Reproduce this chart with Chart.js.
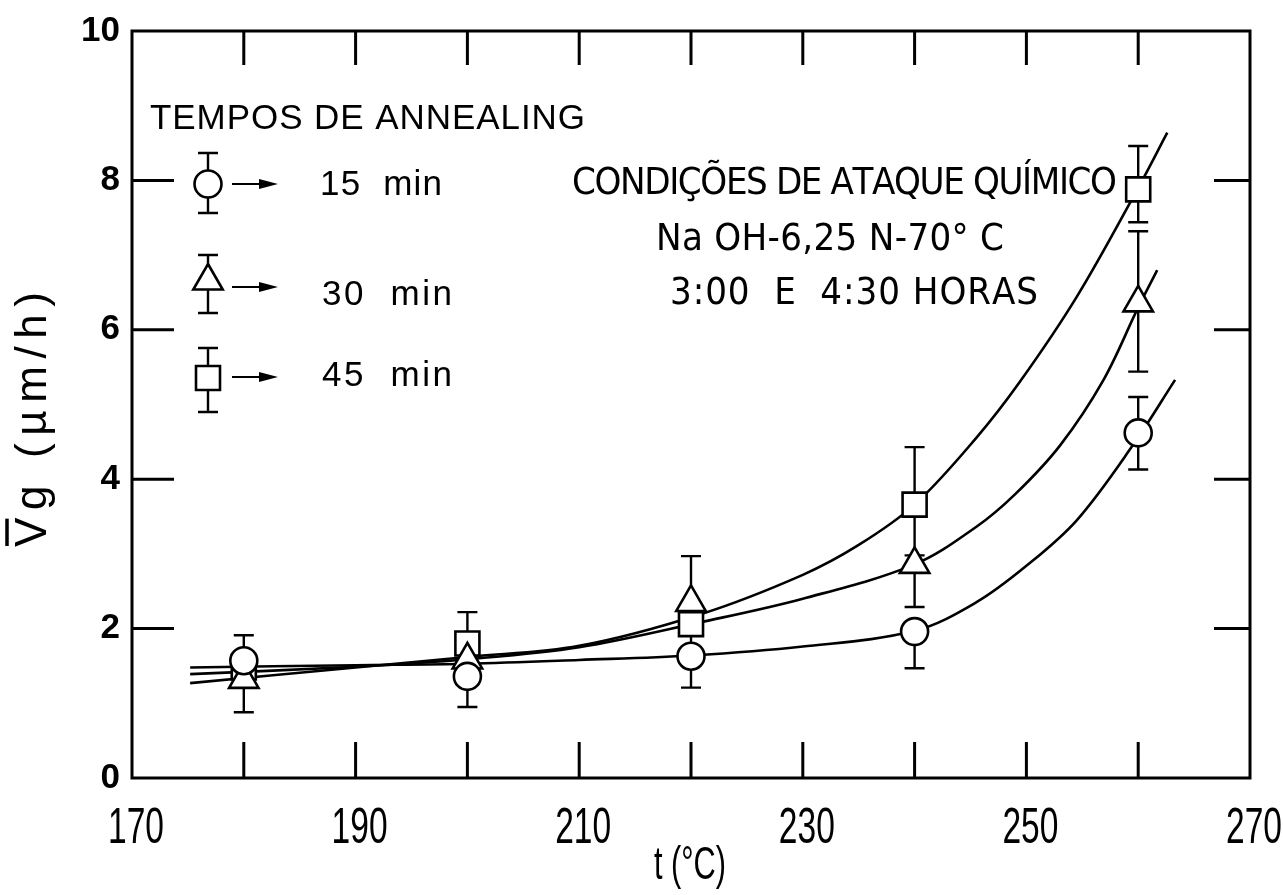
<!DOCTYPE html>
<html>
<head>
<meta charset="utf-8">
<script src="https://cdn.jsdelivr.net/npm/chart.js@4"></script>
<style>
html,body{margin:0;padding:0;background:#fff}
#wrap{width:1283px;height:895px;position:relative}
</style>
</head>
<body>
<div id="wrap"><canvas id="c" width="1283" height="895"></canvas></div>
<script>
// ---- tick labels ----
const xTickLabels = [170, 190, 210, 230, 250, 270];
const xTickMarks = [180, 190, 200, 210, 220, 230, 240, 250, 260];
const yTickLabels = [0, 2, 4, 6, 8, 10];
const yTickMarks = [2, 4, 6, 8];

// ---- measured points (temperature, Vg) ----
const temps = [180, 200, 220, 240, 260];
const v15 = [1.57, 1.36, 1.63, 1.96, 4.62];
const v30 = [1.32, 1.58, 2.35, 2.86, 6.36];
const v45 = [1.48, 1.80, 2.06, 3.66, 7.88];

// ---- error bar ends (null = not drawn) ----
const hi15 = [1.91, null, null, null, 5.10];
const lo15 = [null, 0.95, 1.21, 1.47, 4.13];
const hi30 = [null, null, 2.97, null, 7.32];
const lo30 = [0.88, null, null, 2.29, 5.44];
const hi45 = [null, 2.22, null, 4.43, 8.46];
const lo45 = [null, null, 1.56, 2.98, 7.44];

// ---- fitted curves ----
const fit15T = [175.2, 190, 200, 210, 220, 230, 240, 245.5, 250, 254.5, 259.5, 263.3];
const fit15V = [1.48, 1.51, 1.53, 1.58, 1.64, 1.76, 1.97, 2.35, 2.84, 3.45, 4.45, 5.33];
const fit30T = [175.2, 190, 200, 210, 221, 230, 240, 245.5, 249, 253, 256.9, 260, 261.7];
const fit30V = [1.39, 1.49, 1.59, 1.75, 2.09, 2.40, 2.86, 3.36, 3.80, 4.45, 5.33, 6.30, 6.80];
const fit45T = [175.2, 190, 200, 210, 221, 230, 235, 240, 245.5, 249.4, 254.5, 260, 262.6];
const fit45V = [1.27, 1.48, 1.62, 1.77, 2.20, 2.72, 3.12, 3.66, 4.55, 5.30, 6.44, 7.90, 8.64];

// ---- texts ----
const legendTitle = 'TEMPOS DE ANNEALING';
const seriesNames = ['15  min', '30  min', '45  min'];
const noteLines = ['CONDIÇÕES DE ATAQUE QUÍMICO', 'Na OH-6,25 N-70° C', '3:00  E  4:30 HORAS'];
const xTitle = 't (°C)';
const yTitle = 'Vg (µm/h)';

const pts = (xs, ys) => xs.map((x, i) => ({x: x, y: ys[i]}));

function curve(xs, ys) {
  return {data: pts(xs, ys), showLine: true, borderColor: '#000', borderWidth: 2.6,
    pointRadius: 0, tension: 0.35, fill: false, order: 2};
}
function marks(ys, style, r) {
  return {data: pts(temps, ys), showLine: false, pointStyle: style, pointRadius: r,
    pointBorderWidth: 2.6, pointBackgroundColor: '#fff', pointBorderColor: '#000',
    backgroundColor: '#fff', borderColor: '#000', order: 0};
}

function spacedText(ctx, text, x, y, w, font) {
  ctx.save();
  ctx.font = font;
  const chars = Array.from(text);
  const widths = chars.map(c => ctx.measureText(c).width);
  const nat = widths.reduce((a, b) => a + b, 0);
  const sp = chars.length > 1 ? (w - nat) / (chars.length - 1) : 0;
  let cx = x;
  ctx.textAlign = 'left';
  chars.forEach((c, i) => { ctx.fillText(c, cx, y); cx += widths[i] + sp; });
  ctx.restore();
  return widths[0];
}

function fittedText(ctx, text, cx, y, w, font) {
  ctx.save();
  ctx.font = font;
  const m = ctx.measureText(text).width;
  ctx.translate(cx, y);
  ctx.scale(w / m, 1);
  ctx.textAlign = 'center';
  ctx.fillText(text, 0, 0);
  ctx.restore();
}

function drawMarker(ctx, style, x, y) {
  ctx.save();
  ctx.fillStyle = '#fff'; ctx.strokeStyle = '#000'; ctx.lineWidth = 2.6;
  ctx.beginPath();
  if (style === 'circle') {
    ctx.arc(x, y, 13.5, 0, Math.PI * 2);
  } else if (style === 'triangle') {
    const r = 17;
    ctx.moveTo(x, y - r);
    ctx.lineTo(x + r * 0.866, y + r * 0.5);
    ctx.lineTo(x - r * 0.866, y + r * 0.5);
    ctx.closePath();
  } else {
    const s = 12;
    ctx.rect(x - s, y - s, 2 * s, 2 * s);
  }
  ctx.fill(); ctx.stroke();
  ctx.restore();
}

function vbar(ctx, x, y0, y1) {
  ctx.beginPath(); ctx.moveTo(x, y0); ctx.lineTo(x, y1);
  ctx.moveTo(x - 10, y1); ctx.lineTo(x + 10, y1); ctx.stroke();
}

const figurePlugin = {
  id: 'figure',
  beforeDatasetsDraw(chart) {
    const ctx = chart.ctx, xs = chart.scales.x, ys = chart.scales.y;
    ctx.save();
    ctx.strokeStyle = '#000'; ctx.lineWidth = 2.4;
    [[v15, hi15, lo15], [v30, hi30, lo30], [v45, hi45, lo45]].forEach(([v, hi, lo]) => {
      temps.forEach((t, i) => {
        const px = xs.getPixelForValue(t), py = ys.getPixelForValue(v[i]);
        if (hi[i] !== null) vbar(ctx, px, py, ys.getPixelForValue(hi[i]));
        if (lo[i] !== null) vbar(ctx, px, py, ys.getPixelForValue(lo[i]));
      });
    });
    ctx.restore();
  },
  afterDraw(chart) {
    const ctx = chart.ctx, a = chart.chartArea, xs = chart.scales.x, ys = chart.scales.y;
    ctx.save();
    ctx.strokeStyle = '#000'; ctx.fillStyle = '#000';
    // frame
    ctx.lineWidth = 3;
    ctx.strokeRect(a.left, a.top, a.right - a.left, a.bottom - a.top);
    // inner tick marks
    ctx.beginPath();
    xTickMarks.forEach(t => {
      const px = xs.getPixelForValue(t);
      ctx.moveTo(px, a.bottom); ctx.lineTo(px, a.bottom - 36);
      ctx.moveTo(px, a.top); ctx.lineTo(px, a.top + 34);
    });
    yTickMarks.forEach(v => {
      const py = ys.getPixelForValue(v);
      ctx.moveTo(a.left, py); ctx.lineTo(a.left + 42, py);
      ctx.moveTo(a.right, py); ctx.lineTo(a.right - 36, py);
    });
    ctx.stroke();

    // x tick labels (narrow lettering, placed by the x scale)
    ctx.textBaseline = 'alphabetic';
    xTickLabels.forEach(v => {
      fittedText(ctx, String(v), xs.getPixelForValue(v) + 4, a.bottom + 65, 56,
        '50px "Liberation Sans", Arial, sans-serif');
    });

    // axis titles
    fittedText(ctx, xTitle, 690, 879, 72, '46px "Liberation Sans", Arial, sans-serif');
    ctx.save();
    ctx.translate(46, 547);
    ctx.rotate(-Math.PI / 2);
    const wV = spacedText(ctx, yTitle, 0, 0, 255, '44px "Liberation Sans", Arial, sans-serif');
    ctx.lineWidth = 3.5;
    ctx.beginPath(); ctx.moveTo(1, -39); ctx.lineTo(wV - 1, -39); ctx.stroke();
    ctx.restore();

    // legend
    ctx.textBaseline = 'middle';
    const lf = '35px "Liberation Sans", Arial, sans-serif';
    spacedText(ctx, legendTitle, 150, 119, 435, lf);
    const lx = 208;
    const rows = [
      {style: 'circle', y: 184, top: 153, bot: 213, ay: 184, ty: 185, tx: 320, tw: 122, name: seriesNames[0]},
      {style: 'triangle', y: 281, top: 255, bot: 313, ay: 287, ty: 295, tx: 322, tw: 130, name: seriesNames[1]},
      {style: 'square', y: 378, top: 348, bot: 412, ay: 377, ty: 376, tx: 322, tw: 130, name: seriesNames[2]}
    ];
    ctx.lineWidth = 2.4;
    rows.forEach(r => {
      vbar(ctx, lx, r.y, r.top);
      vbar(ctx, lx, r.y, r.bot);
      drawMarker(ctx, r.style, lx, r.y);
      ctx.lineWidth = 2;
      ctx.beginPath(); ctx.moveTo(232, r.ay); ctx.lineTo(262, r.ay); ctx.stroke();
      ctx.beginPath(); ctx.moveTo(259, r.ay - 5); ctx.lineTo(278, r.ay); ctx.lineTo(259, r.ay + 5); ctx.closePath(); ctx.fill();
      ctx.lineWidth = 2.4;
      spacedText(ctx, r.name, r.tx, r.ty, r.tw, lf);
    });

    // etching conditions note
    const nf = '38px "Liberation Sans Narrow", "DejaVu Sans Condensed", sans-serif';
    spacedText(ctx, noteLines[0], 572, 184, 545, nf);
    spacedText(ctx, noteLines[1], 656, 240, 348, nf);
    spacedText(ctx, noteLines[2], 670, 294, 368, nf);
    ctx.restore();
  }
};

const chart = new Chart(document.getElementById('c'), {
  type: 'scatter',
  data: {
    datasets: [
      curve(fit15T, fit15V),
      curve(fit30T, fit30V),
      curve(fit45T, fit45V),
      marks(v15, 'circle', 13.5),
      marks(v30, 'triangle', 17),
      marks(v45, 'rect', 17)
    ]
  },
  options: {
    responsive: false,
    animation: false,
    events: [],
    layout: {padding: {top: 31, right: 33, bottom: 0, left: 0}},
    plugins: {legend: {display: false}, tooltip: {enabled: false}},
    scales: {
      x: {
        type: 'linear', min: 170, max: 270,
        afterBuildTicks: s => { s.ticks = xTickLabels.map(v => ({value: v})); },
        afterFit: s => { s.height = 117; s.paddingLeft = 0; s.paddingRight = 0; },
        grid: {display: false, drawTicks: false},
        border: {display: false},
        ticks: {display: false}
      },
      y: {
        type: 'linear', min: 0, max: 10,
        afterBuildTicks: s => { s.ticks = yTickLabels.map(v => ({value: v})); },
        afterFit: s => { s.width = 132; s.paddingTop = 0; s.paddingBottom = 0; },
        grid: {display: false, drawTicks: false},
        border: {display: false},
        ticks: {autoSkip: false, padding: 12, color: '#000',
          font: {family: '"Liberation Sans", Arial, sans-serif', size: 35, weight: 'bold'}}
      }
    }
  },
  plugins: [figurePlugin]
});
</script>
</body>
</html>
